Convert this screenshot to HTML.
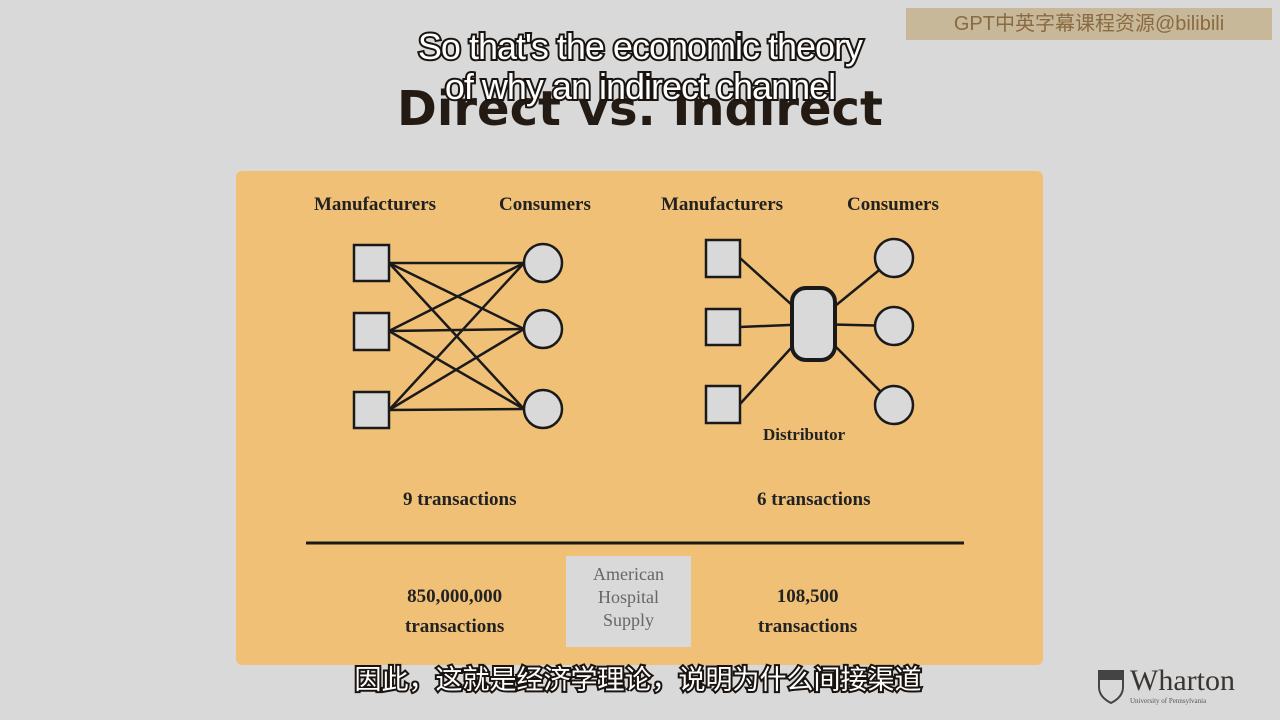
<!DOCTYPE html>
<html><head><style>
body{margin:0;width:1280px;height:720px;background:#d9d9d9;position:relative;overflow:hidden;font-family:"Liberation Serif",serif}
.t{position:absolute;font-weight:bold;color:#222;font-size:19px;white-space:nowrap}
.sub{position:absolute;font-family:"Liberation Sans",sans-serif;color:#fff;-webkit-text-stroke:4px #1a1410;paint-order:stroke fill;font-size:36px;text-align:center;width:1280px;left:0;letter-spacing:-1px}
</style></head><body>
<div style="position:absolute;left:0;top:81px;width:1280px;text-align:center;font-family:'DejaVu Sans',sans-serif;font-weight:bold;font-size:48px;color:#231a14;letter-spacing:0px">Direct vs. Indirect</div>
<div class="sub" style="top:26px">So that's the economic theory</div>
<div class="sub" style="top:66px">of why an indirect channel</div>
<div style="position:absolute;left:906px;top:8px;width:366px;height:32px;background:#c8b89a;color:#8a6a40;font-family:'Liberation Sans','Noto Sans CJK SC',sans-serif;font-size:20px;line-height:32px;text-align:center">GPT中英字幕课程资源@bilibili</div>
<div style="position:absolute;left:236px;top:171px;width:807px;height:494px;background:#f0c077;border-radius:6px"></div>
<div style="position:absolute;left:566px;top:556px;width:125px;height:91px;background:#d9d9d9"></div>
<svg style="position:absolute;left:0;top:0" width="1280" height="720">
<g stroke="#1a1a1a" stroke-width="2.5" fill="none">
<line x1="389" y1="263" x2="524" y2="263"/><line x1="389" y1="263" x2="524" y2="329"/><line x1="389" y1="263" x2="524" y2="409"/>
<line x1="389" y1="331" x2="524" y2="263"/><line x1="389" y1="331" x2="524" y2="329"/><line x1="389" y1="331" x2="524" y2="409"/>
<line x1="389" y1="410" x2="524" y2="263"/><line x1="389" y1="410" x2="524" y2="329"/><line x1="389" y1="410" x2="524" y2="409"/>
<line x1="740" y1="258" x2="813" y2="324"/><line x1="740" y1="327" x2="813" y2="324"/><line x1="740" y1="404" x2="813" y2="324"/>
<line x1="894" y1="258" x2="813" y2="324"/><line x1="894" y1="326" x2="813" y2="324"/><line x1="894" y1="405" x2="813" y2="324"/>
</g>
<g stroke="#1a1a1a" stroke-width="2.5" fill="#d9d9d9">
<rect x="354" y="245" width="35" height="36"/><rect x="354" y="313" width="35" height="37"/><rect x="354" y="392" width="35" height="36"/>
<circle cx="543" cy="263" r="19"/><circle cx="543" cy="329" r="19"/><circle cx="543" cy="409" r="19"/>
<rect x="706" y="240" width="34" height="37"/><rect x="706" y="309" width="34" height="36"/><rect x="706" y="386" width="34" height="37"/>
<circle cx="894" cy="258" r="19"/><circle cx="894" cy="326" r="19"/><circle cx="894" cy="405" r="19"/>
<rect x="792" y="288" width="43" height="72" rx="14" stroke-width="4"/>
</g>
<line x1="306" y1="543" x2="964" y2="543" stroke="#1a1a1a" stroke-width="3"/>
</svg>
<div class="t" style="left:314px;top:194px">Manufacturers</div>
<div class="t" style="left:499px;top:194px">Consumers</div>
<div class="t" style="left:661px;top:194px">Manufacturers</div>
<div class="t" style="left:847px;top:194px">Consumers</div>
<div class="t" style="left:763px;top:425px;font-size:17px">Distributor</div>
<div class="t" style="left:403px;top:489px">9 transactions</div>
<div class="t" style="left:757px;top:489px">6 transactions</div>
<div class="t" style="left:405px;top:582px;text-align:center;line-height:30px">850,000,000<br>transactions</div>
<div class="t" style="left:758px;top:582px;text-align:center;line-height:30px">108,500<br>transactions</div>
<div style="position:absolute;left:566px;top:563px;width:125px;text-align:center;color:#666;font-size:18px;line-height:23px">American<br>Hospital<br>Supply</div>
<div class="sub" style="top:658px;font-family:'Noto Sans CJK SC',sans-serif;font-size:27px;letter-spacing:0;left:-2px">因此，这就是经济学理论，说明为什么间接渠道</div>
<svg style="position:absolute;left:1097px;top:669px" width="28" height="36"><path d="M2 2h24v16c0 8-6 13-12 16C8 31 2 26 2 18z" fill="none" stroke="#444" stroke-width="2"/><rect x="2" y="2" width="24" height="9" fill="#444"/></svg>
<div style="position:absolute;left:1130px;top:664px;font-size:30px;color:#3a3530">Wharton</div>
<div style="position:absolute;left:1130px;top:697px;font-size:7px;color:#555">University of Pennsylvania</div>
</body></html>
